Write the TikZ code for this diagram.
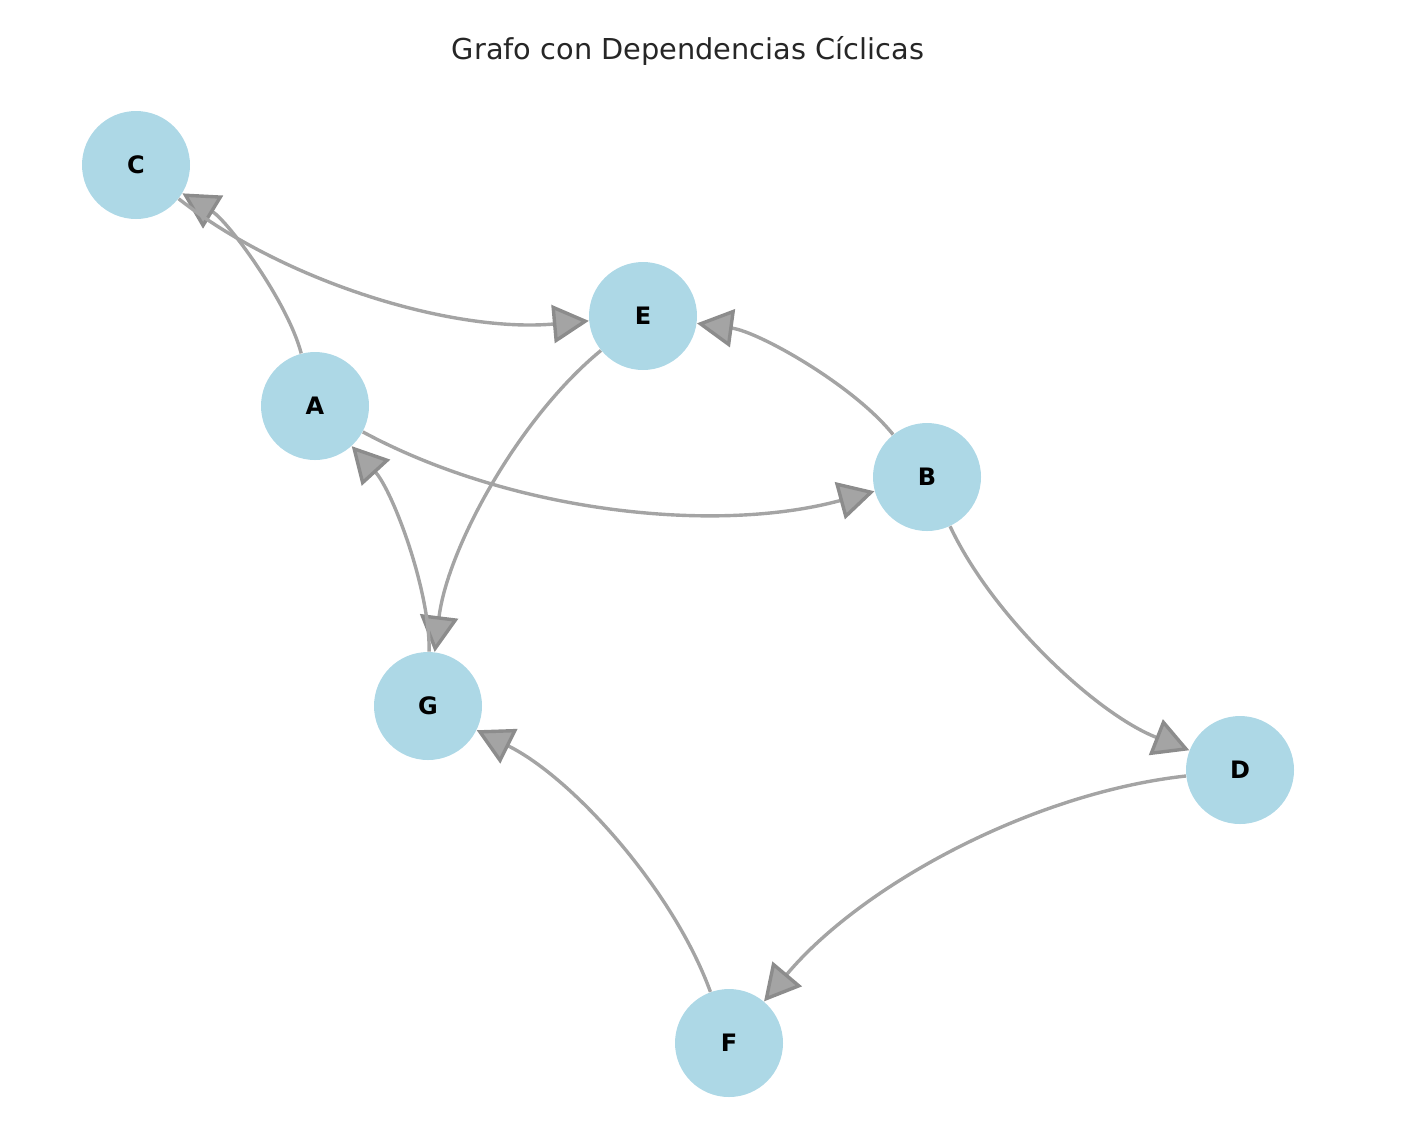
\documentclass[tikz,border=0pt]{standalone}
\usepackage{fontspec}
\setmainfont{DejaVu Sans}
\usetikzlibrary{arrows.meta,calc}
\definecolor{nodeblue}{HTML}{ADD8E6}
\definecolor{edgegray}{HTML}{A4A4A4}
\definecolor{tipgray}{HTML}{8C8C8C}
\tikzset{
  vtx/.style={circle, fill=nodeblue, draw=none, minimum size=54pt, inner sep=0pt, font=\fontsize{12}{14}\selectfont\bfseries},
  edge/.style={draw=edgegray, line width=1.7pt, -{Triangle[length=18pt, width=19pt, fill=edgegray, color=tipgray, line join=miter]}},
  ttl/.style={font=\fontsize{14.4}{17}\selectfont, text=black!85, anchor=base}
}
\begin{document}
\begin{tikzpicture}[x=0.5pt, y=-0.5pt]
\useasboundingbox (0,0) rectangle (1412,1126);
\node[ttl] (title) at (688,59) {Grafo con Dependencias Cíclicas};
\node[vtx] (C) at (136,165) {C};
\node[vtx] (E) at (643,316) {E};
\node[vtx] (A) at (315,406) {A};
\node[vtx] (B) at (927,477) {B};
\node[vtx] (G) at (428,706) {G};
\node[vtx] (D) at (1240,770) {D};
\node[vtx] (F) at (729,1043) {F};
\foreach \s/\t/\cx/\cy in {A/C/273.9/249.2, C/E/359.1/341.4, A/B/606.8/563.9, B/E/817.2/339.7, E/G/457.5/468, G/A/431.5/533.4, B/D/1024.9/686.1, D/F/929.9/804.3, F/G/645.9/814.3}{
  \coordinate (q) at (\cx,\cy);
  \draw[edge] (\s) .. controls ($(\s)!2/3!(q)$) and ($(\t)!2/3!(q)$) .. (\t);
}
\end{tikzpicture}
\end{document}
